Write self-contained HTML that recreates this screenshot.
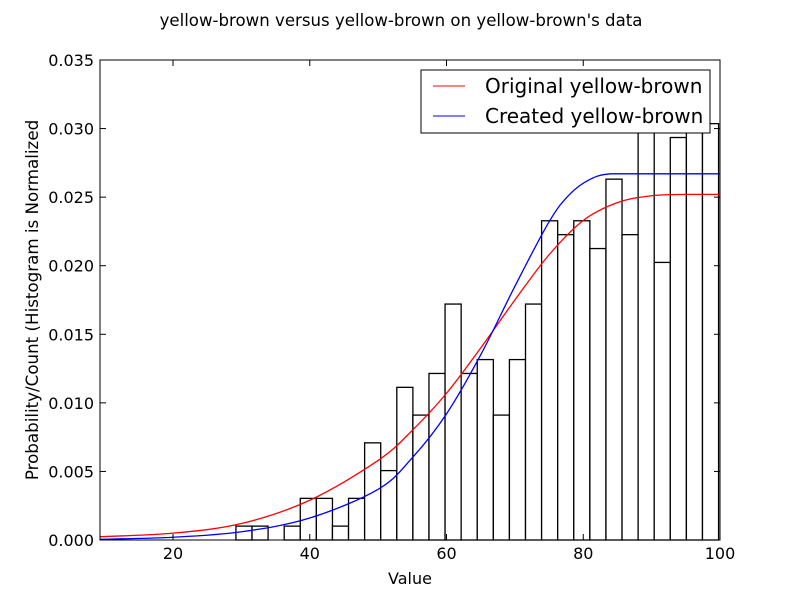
<!DOCTYPE html>
<html><head><meta charset="utf-8"><style>
body{margin:0;background:#fff}
svg{display:block;font-family:"DejaVu Sans","Liberation Sans",sans-serif}
</style></head><body>
<svg id="chart" width="800" height="600" xmlns="http://www.w3.org/2000/svg">
<rect width="800" height="600" fill="#fff"/>
<text x="401" y="26" text-anchor="middle" font-size="16.6">yellow-brown versus yellow-brown on yellow-brown's data</text>
<g id="bars"></g>
<g id="lines"></g>
<rect x="100" y="60" width="620" height="480" fill="none" stroke="#000" stroke-width="1"/>
<g id="ticks"></g>
<text x="410" y="584" text-anchor="middle" font-size="16">Value</text>
<text transform="translate(38,300) rotate(-90)" text-anchor="middle" font-size="16.7">Probability/Count (Histogram is Normalized</text>
<g>
<rect x="421" y="70" width="289" height="63" fill="#fff" stroke="#000"/>
<line x1="433" y1="86" x2="465" y2="86" stroke="red"/>
<text x="485" y="93" font-size="20">Original yellow-brown</text>
<line x1="433" y1="116" x2="465" y2="116" stroke="blue"/>
<text x="485" y="123" font-size="20">Created yellow-brown</text>
</g>
</svg>
<script>
const binStart = 29.2;
const binWidth = 2.353;
const counts = [1,1,0,1,3,3,1,3,7,5,11,9,12,17,12,13,9,13,17,23,22,23,21,26,22,32,20,29,31,30];
const unit = 0.001012;
const curveX = [9.3,20,30,40,50,55,60,65,70,75,80,85,90,95,100];
const redY = [0.00024,0.0005,0.0012,0.0029,0.0058,0.0080,0.0107,0.0140,0.0175,0.0208,0.0233,0.0246,0.0251,0.0252,0.0252];
const blueCX = [9.3,20,30,40,50,55,60,65,70,75,78,81,84,90,100];
const blueY = [0.00005,0.0002,0.0006,0.0016,0.0037,0.0060,0.0092,0.0135,0.0185,0.0232,0.0252,0.0263,0.0267,0.0267,0.0267];
const xTicks = [20,40,60,80,100];
const yTicks = [0,0.005,0.010,0.015,0.020,0.025,0.030,0.035];
const yTickLabels = ["0.000","0.005","0.010","0.015","0.020","0.025","0.030","0.035"];

const NS="http://www.w3.org/2000/svg";
const xMin=9.32,xMax=100,yMax=0.035;
const sx=v=>100+(v-xMin)/(xMax-xMin)*620;
const sy=v=>540-v/yMax*480;
function mk(t,a,p){const e=document.createElementNS(NS,t);for(const k in a)e.setAttribute(k,a[k]);p.appendChild(e);return e;}
const bars=document.getElementById('bars');
counts.forEach((c,i)=>{
  if(!c)return;
  const x0=sx(binStart+i*binWidth),x1=sx(binStart+(i+1)*binWidth);
  const top=Math.max(sy(c*unit),60);
  const r=mk('rect',{x:x0,y:top,width:x1-x0,height:540-top,fill:'#fff',stroke:'#000','stroke-width':1.3},bars);
  
  
});
function smooth(xs,ys){
  const p=xs.map((x,i)=>[sx(x),sy(ys[i])]);
  let d=`M${p[0][0]},${p[0][1]}`;
  for(let i=0;i<p.length-1;i++){
    const a=p[Math.max(i-1,0)],b=p[i],c=p[i+1],e=p[Math.min(i+2,p.length-1)];
    let c1=[b[0]+(c[0]-a[0])/6,b[1]+(c[1]-a[1])/6],c2=[c[0]-(e[0]-b[0])/6,c[1]-(e[1]-b[1])/6];
    const lo=Math.min(b[1],c[1]),hi=Math.max(b[1],c[1]);
    c1[1]=Math.min(Math.max(c1[1],lo),hi);c2[1]=Math.min(Math.max(c2[1],lo),hi);
    d+=` C${c1[0]},${c1[1]} ${c2[0]},${c2[1]} ${c[0]},${c[1]}`;
  }
  return d;
}
const lines=document.getElementById('lines');
const rl=mk('path',{d:smooth(curveX,redY),fill:'none',stroke:'red','stroke-width':1.3},lines);


const bl=mk('path',{d:smooth(blueCX,blueY),fill:'none',stroke:'blue','stroke-width':1.3},lines);


const ticks=document.getElementById('ticks');
xTicks.forEach(v=>{
  const x=sx(v);
  mk('line',{x1:x,y1:540,x2:x,y2:534,stroke:'#000'},ticks);
  mk('line',{x1:x,y1:60,x2:x,y2:66,stroke:'#000'},ticks);
  const t=mk('text',{x:x,y:559,'text-anchor':'middle','font-size':16},ticks);
  t.textContent=v;
  
  
});
yTicks.forEach((v,i)=>{
  const y=sy(v);
  mk('line',{x1:100,y1:y,x2:106,y2:y,stroke:'#000'},ticks);
  mk('line',{x1:720,y1:y,x2:714,y2:y,stroke:'#000'},ticks);
  const t=mk('text',{x:94,y:y+6,'text-anchor':'end','font-size':16},ticks);
  t.textContent=yTickLabels[i];
  
  
});
</script>
</body></html>
